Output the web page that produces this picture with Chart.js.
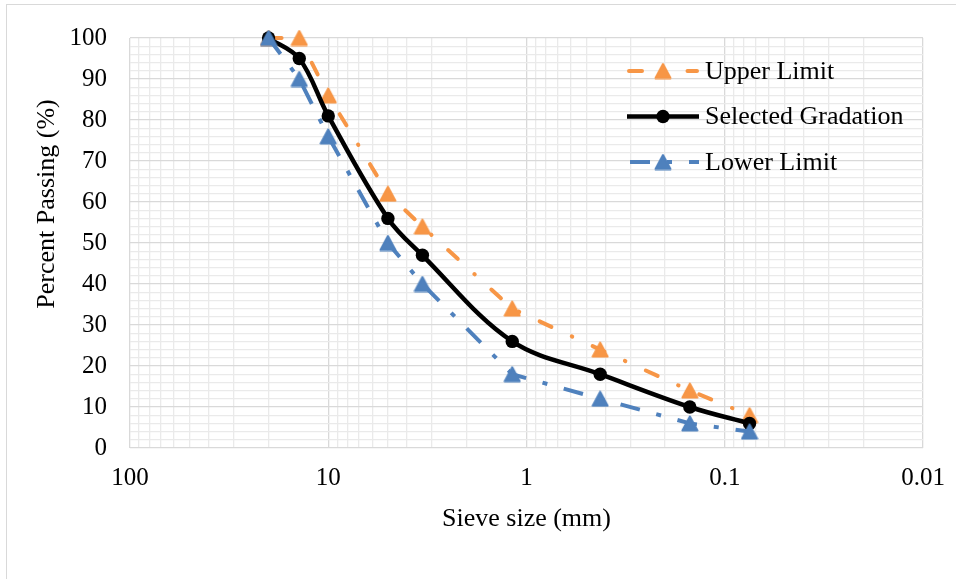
<!DOCTYPE html>
<html><head><meta charset="utf-8">
<script src="https://cdn.jsdelivr.net/npm/chart.js@4"></script>
<style>
html,body{margin:0;padding:0;background:#fff;}
#wrap{position:relative;width:956px;height:579px;overflow:hidden;background:#fff;}
#frame{position:absolute;left:6px;top:4px;width:1000px;height:700px;border:1.5px solid #d9d9d9;box-sizing:border-box;}
canvas{position:absolute;left:0;top:0;}
</style></head><body>
<div id="wrap"><div id="frame"></div><canvas id="c" width="956" height="579"></canvas></div>
<script>
// ---- data ----
const sieveSizes = [20, 14, 10, 5, 3.35, 1.18, 0.425, 0.15, 0.075];
const upperLimit = [100, 100, 86, 62, 54, 34, 24, 14, 8];
const selectedGradation = [100, 95, 81, 56, 47, 26, 18, 10, 6];
const lowerLimit = [100, 90, 76, 50, 40, 18, 12, 6, 4];
const seriesNames = ['Upper Limit', 'Selected Gradation', 'Lower Limit'];
const xTickLabels = ['100', '10', '1', '0.1', '0.01'];
const yTickLabels = ['0', '10', '20', '30', '40', '50', '60', '70', '80', '90', '100'];
const xTitle = 'Sieve size (mm)';
const yTitle = 'Percent Passing (%)';

const FONT = "'Liberation Serif', 'Times New Roman', serif";
const ORANGE = '#F79646', BLUE = '#4F81BD', BLACK = '#000000';

const xMajor = xTickLabels.map(Number);
const yMajor = yTickLabels.map(Number);
// grid ticks: 1..9 per decade, every 2 units on y
const xGrid = [];
[0.01, 0.1, 1, 10].forEach(d => { for (let m = 1; m <= 9; m++) xGrid.push({ value: +(m * d).toPrecision(3), major: m === 1 }); });
xGrid.push({ value: 100, major: true });
const yGrid = [];
for (let v = 0; v <= 100; v += 2) yGrid.push({ value: v, major: v % 10 === 0 });

// rounded triangle marker, centred on its bounding box (like Excel)
function triMarker(color) {
  const c = document.createElement('canvas');
  c.width = 18; c.height = 17;
  const g = c.getContext('2d');
  g.fillStyle = color; g.strokeStyle = color; g.lineWidth = 2; g.lineJoin = 'round';
  g.beginPath(); g.moveTo(9, 1.5); g.lineTo(1.5, 15.5); g.lineTo(16.5, 15.5); g.closePath();
  g.fill(); g.stroke();
  return c;
}
const triOrange = triMarker(ORANGE), triBlue = triMarker(BLUE);

const pts = arr => sieveSizes.map((s, i) => ({ x: s, y: arr[i] }));

const datasets = [
  { label: seriesNames[0], data: pts(upperLimit), borderColor: ORANGE, backgroundColor: ORANGE,
    borderWidth: 4, borderDash: [13, 22.5, 0.5, 22.5], borderCapStyle: 'round',
    pointStyle: triOrange, pointRadius: 9,
    pointBorderWidth: 0, pointBackgroundColor: ORANGE, tension: 0, order: 2, clip: false },
  { label: seriesNames[1], data: pts(selectedGradation), borderColor: BLACK, backgroundColor: BLACK,
    borderWidth: 4.5, pointStyle: 'circle', pointRadius: 6.7, pointBorderWidth: 0,
    pointBackgroundColor: BLACK, tension: 0.35, order: 1, clip: false },
  { label: seriesNames[2], data: pts(lowerLimit), borderColor: BLUE, backgroundColor: BLUE,
    borderWidth: 4, borderDash: [20, 17, 5, 17], borderCapStyle: 'butt',
    pointStyle: triBlue, pointRadius: 9,
    pointBorderWidth: 0, pointBackgroundColor: BLUE, tension: 0, order: 0, clip: false }
];

const legendGeom = [
  { x0: 629, x1: 697 },
  { x0: 627, x1: 699 },
  { x0: 630, x1: 699 }
];

const customLegendAndTitles = {
  id: 'customLegendAndTitles',
  afterDraw(chart) {
    const ctx = chart.ctx;
    const ca = chart.chartArea;
    ctx.save();
    // axis titles
    ctx.fillStyle = '#000';
    ctx.font = '26px ' + FONT;
    ctx.textAlign = 'center';
    ctx.textBaseline = 'alphabetic';
    ctx.fillText(xTitle, (ca.left + ca.right) / 2, 526);
    ctx.save();
    ctx.translate(54, 204);
    ctx.rotate(-Math.PI / 2);
    ctx.fillText(yTitle, 0, 0);
    ctx.restore();
    // legend
    const rows = [71, 116.5, 162];
    const xm = 663, xt = 705;
    chart.data.datasets.forEach((ds, i) => {
      const y = rows[i];
      const gm = legendGeom[i];
      ctx.save();
      ctx.strokeStyle = ds.borderColor;
      ctx.lineWidth = ds.borderWidth;
      ctx.lineCap = ds.borderCapStyle || 'butt';
      ctx.setLineDash(ds.borderDash || []);
      ctx.beginPath(); ctx.moveTo(gm.x0, y); ctx.lineTo(gm.x1, y); ctx.stroke();
      ctx.setLineDash([]);
      ctx.fillStyle = ds.pointBackgroundColor;
      ctx.strokeStyle = ds.pointBackgroundColor;
      Chart.helpers.drawPoint(ctx, { pointStyle: ds.pointStyle, radius: ds.pointRadius, rotation: 0, borderWidth: 0 }, xm, y);
      ctx.restore();
      ctx.fillStyle = '#000';
      ctx.font = '26px ' + FONT;
      ctx.textAlign = 'left';
      ctx.textBaseline = 'middle';
      ctx.fillText(ds.label, xt, y + 1);
    });
    ctx.restore();
  }
};

new Chart(document.getElementById('c'), {
  type: 'line',
  data: { datasets },
  options: {
    responsive: false,
    animation: false,
    devicePixelRatio: 1,
    layout: { padding: { left: 0, top: 35, right: 33, bottom: 0 } },
    plugins: { legend: { display: false }, tooltip: { enabled: false } },
    scales: {
      x: {
        type: 'logarithmic', reverse: true, min: 0.01, max: 100, position: 'bottom',
        afterBuildTicks: s => { s.ticks = xGrid.map(t => ({ value: t.value, major: t.major })); },
        afterFit: s => { s.height = 131; },
        border: { display: false },
        grid: { drawTicks: false, lineWidth: 1.3,
          color: c => (c.tick && c.tick.major) ? '#d9d9d9' : '#eaeaea' },
        ticks: {
          autoSkip: false, maxRotation: 0, padding: 15, color: '#000', font: { family: FONT, size: 25 },
          callback: v => {
            const i = xMajor.findIndex(m => Math.abs(Math.log10(m) - Math.log10(v)) < 1e-6);
            return i >= 0 ? xTickLabels[i] : '';
          }
        }
      },
      y: {
        type: 'linear', min: 0, max: 100, position: 'left',
        afterBuildTicks: s => { s.ticks = yGrid.map(t => ({ value: t.value, major: t.major })); },
        afterFit: s => { s.width = 130; },
        border: { display: false },
        grid: { drawTicks: false, lineWidth: 1.3,
          color: c => (c.tick && c.tick.major) ? '#d9d9d9' : '#eaeaea' },
        ticks: {
          autoSkip: false, padding: 23, color: '#000', font: { family: FONT, size: 25 },
          callback: v => {
            const i = yMajor.indexOf(Math.round(v * 1000) / 1000);
            return i >= 0 ? yTickLabels[i] : '';
          }
        }
      }
    }
  },
  plugins: [customLegendAndTitles]
});
</script>
</body></html>
